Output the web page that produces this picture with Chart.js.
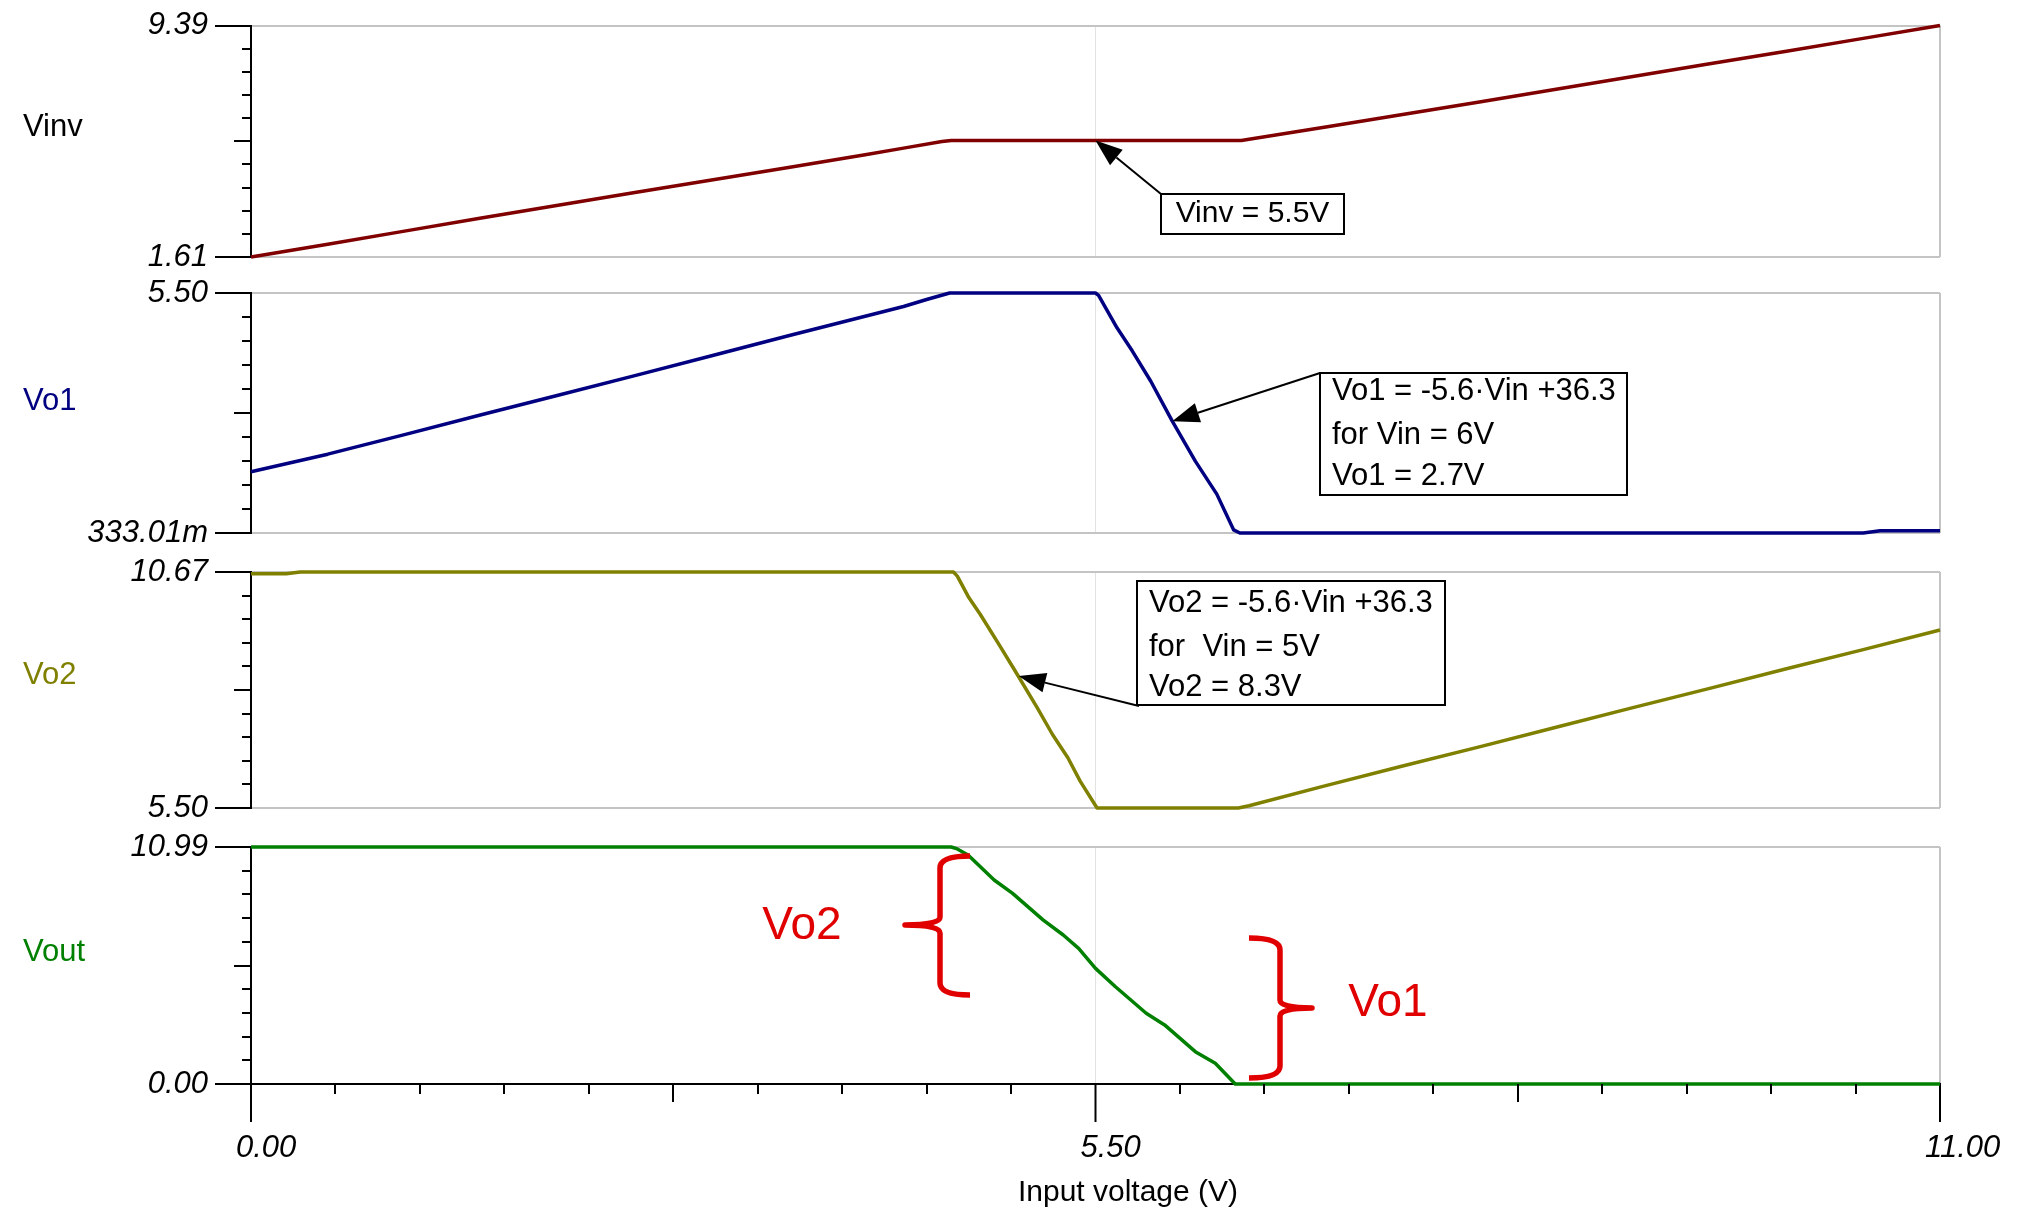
<!DOCTYPE html>
<html>
<head>
<meta charset="utf-8">
<title>Vinv, Vo1, Vo2, Vout vs input voltage</title>
<script src="https://cdn.jsdelivr.net/npm/chart.js@4.4.1/dist/chart.umd.min.js"></script>
<style>
  html, body { margin: 0; padding: 0; background: #fff; }
  #wrap { position: relative; width: 2038px; height: 1217px; }
  #wrap canvas { position: absolute; left: 0; top: 0; }
</style>
</head>
<body>
<div id="wrap">
  <canvas id="vinvChart" width="2038" height="1217"></canvas>
  <canvas id="vo1Chart" width="2038" height="1217"></canvas>
  <canvas id="vo2Chart" width="2038" height="1217"></canvas>
  <canvas id="voutChart" width="2038" height="1217"></canvas>
</div>
<script>
(function () {
  "use strict";

  // ---- data ----
  // input voltage axis
  var xMajor = [0, 5.5, 11];
  var xTickLabels = ['0.00', '5.50', '11.00'];

  // Vinv
  var vinvX = [0, 0.5, 1.0, 1.5, 2.0, 2.5, 3.0, 3.5, 4.0, 4.25, 4.5, 4.56, 6.45, 6.5, 7.0, 7.5, 8.0, 8.5, 9.0, 9.5, 10.0, 10.5, 11.0];
  var vinvY = [1.61, 2.04, 2.48, 2.92, 3.35, 3.78, 4.20, 4.62, 5.05, 5.27, 5.49, 5.53, 5.53, 5.57, 5.98, 6.40, 6.82, 7.25, 7.68, 8.11, 8.53, 8.96, 9.39];
  var vinvRange = [1.61, 9.39];
  var vinvTicks = ['1.61', '9.39'];

  // Vo1
  var vo1X = [0, 0.5, 1.0, 1.5, 2.0, 2.5, 3.0, 3.5, 4.0, 4.25, 4.4, 4.55, 5.5, 5.52, 5.64, 5.74, 5.86, 6.0, 6.15, 6.29, 6.40, 6.44, 10.5, 10.61, 11.0];
  var vo1Y = [1.65, 2.03, 2.45, 2.88, 3.30, 3.72, 4.15, 4.58, 5.00, 5.21, 5.36, 5.50, 5.50, 5.45, 4.75, 4.25, 3.60, 2.74, 1.88, 1.17, 0.40, 0.333, 0.333, 0.38, 0.38];
  var vo1Range = [0.33301, 5.50];
  var vo1Ticks = ['333.01m', '5.50'];

  // Vo2
  var vo2X = [0, 0.23, 0.32, 4.575, 4.60, 4.675, 4.75, 4.87, 4.97, 5.12, 5.22, 5.32, 5.40, 5.51, 6.43, 6.5, 7.0, 7.5, 8.0, 8.5, 9.0, 9.5, 10.0, 10.5, 11.0];
  var vo2Y = [10.63, 10.63, 10.67, 10.67, 10.58, 10.11, 9.74, 9.09, 8.54, 7.70, 7.11, 6.60, 6.09, 5.50, 5.50, 5.55, 5.99, 6.42, 6.84, 7.27, 7.70, 8.12, 8.55, 8.97, 9.40];
  var vo2Range = [5.50, 10.67];
  var vo2Ticks = ['5.50', '10.67'];

  // Vout
  var voutX = [0, 4.56, 4.60, 4.67, 4.84, 4.96, 5.16, 5.29, 5.39, 5.5, 5.63, 5.83, 5.95, 6.15, 6.28, 6.41, 11.0];
  var voutY = [10.99, 10.99, 10.90, 10.62, 9.46, 8.84, 7.60, 6.91, 6.29, 5.36, 4.51, 3.28, 2.74, 1.50, 0.96, 0.0, 0.0];
  var voutRange = [0, 10.99];
  var voutTicks = ['0.00', '10.99'];

  // ---- page geometry ----
  var W = 2038, H = 1217;
  var plotLeft = 251, plotRight = 1940;
  var FONT = "'Liberation Sans', Arial, sans-serif";

  Chart.defaults.font.family = FONT;

  function toPoints(xs, ys) {
    return xs.map(function (x, i) { return { x: x, y: ys[i] }; });
  }

  function drawArrow(ctx, x0, y0, x1, y1) {
    var ang = Math.atan2(y1 - y0, x1 - x0), head = 27, half = 10;
    var bx = x1 - head * Math.cos(ang), by = y1 - head * Math.sin(ang);
    ctx.beginPath();
    ctx.moveTo(x0, y0);
    ctx.lineTo(bx, by);
    ctx.stroke();
    ctx.beginPath();
    ctx.moveTo(x1, y1);
    ctx.lineTo(bx + half * Math.sin(ang), by - half * Math.cos(ang));
    ctx.lineTo(bx - half * Math.sin(ang), by + half * Math.cos(ang));
    ctx.closePath();
    ctx.fill();
  }

  // curly brace, vertical stem at xv from y1 to y2, point at (xTip, ym), arms end at xArm
  function drawBrace(ctx, b) {
    var r = 12, r2 = 8;
    ctx.beginPath();
    ctx.moveTo(b.xArm, b.y1);
    ctx.quadraticCurveTo(b.xv, b.y1, b.xv, b.y1 + r);
    ctx.lineTo(b.xv, b.ym - r2);
    ctx.quadraticCurveTo(b.xv, b.ym, b.xTip, b.ym);
    ctx.quadraticCurveTo(b.xv, b.ym, b.xv, b.ym + r2);
    ctx.lineTo(b.xv, b.y2 - r);
    ctx.quadraticCurveTo(b.xv, b.y2, b.xArm, b.y2);
    ctx.stroke();
  }

  /*panel decorations: minor ticks, names, notes, braces*/
  var panelDecor = {
    id: 'panelDecor',
    afterDraw: function (chart, args, o) {
      var ctx = chart.ctx, xs = chart.scales.x, ys = chart.scales.y, area = chart.chartArea;
      var i, p, len;
      ctx.save();
      ctx.strokeStyle = '#000';
      ctx.fillStyle = '#000';
      ctx.lineWidth = 2;

      // minor y ticks, middle one longer
      for (i = 1; i < 10; i++) {
        p = Math.round(ys.getPixelForValue(ys.min + i * (ys.max - ys.min) / 10));
        len = i === 5 ? 17 : 9;
        ctx.beginPath();
        ctx.moveTo(area.left - len, p);
        ctx.lineTo(area.left, p);
        ctx.stroke();
      }

      // minor x ticks on the bottom panel
      if (o.minorX) {
        for (i = 1; i < 20; i++) {
          if (i === 10) continue;
          p = Math.round(xs.getPixelForValue(i * 0.55));
          len = (i === 5 || i === 15) ? 18 : 10;
          ctx.beginPath();
          ctx.moveTo(p, area.bottom);
          ctx.lineTo(p, area.bottom + len);
          ctx.stroke();
        }
      }

      // series name
      ctx.font = '31px ' + FONT;
      ctx.textBaseline = 'middle';
      ctx.textAlign = 'left';
      ctx.fillStyle = o.nameColor;
      ctx.fillText(o.name, 23, o.nameY);

      // boxed notes with arrows
      (o.notes || []).forEach(function (n) {
        ctx.fillStyle = '#fff';
        ctx.fillRect(n.box[0], n.box[1], n.box[2], n.box[3]);
        ctx.strokeStyle = '#000';
        ctx.lineWidth = 2;
        ctx.strokeRect(n.box[0], n.box[1], n.box[2], n.box[3]);
        ctx.fillStyle = '#000';
        ctx.font = n.font + 'px ' + FONT;
        ctx.textAlign = n.align;
        n.lines.forEach(function (t, k) {
          ctx.fillText(t, n.textX, n.lineY[k]);
        });
        drawArrow(ctx, n.from[0], n.from[1], xs.getPixelForValue(n.tip[0]), ys.getPixelForValue(n.tip[1]));
      });

      // red braces and labels
      (o.braces || []).forEach(function (b) {
        ctx.strokeStyle = '#e00000';
        ctx.lineWidth = 5.5;
        ctx.lineJoin = 'round';
        drawBrace(ctx, b);
        ctx.fillStyle = '#e00000';
        ctx.font = '46px ' + FONT;
        ctx.textAlign = 'center';
        ctx.fillText(b.label, b.labelX, b.labelY);
      });

      // x axis title
      if (o.xTitle) {
        ctx.fillStyle = '#000';
        ctx.font = '30px ' + FONT;
        ctx.textAlign = 'center';
        ctx.fillText(o.xTitle, 1128, 1193);
      }
      ctx.restore();
    }
  };

  function makePanel(canvasId, p) {
    var last = !!p.last;
    return new Chart(document.getElementById(canvasId), {
      type: 'line',
      data: {
        datasets: [{
          data: toPoints(p.xs, p.ys),
          borderColor: p.color,
          borderWidth: 3.5,
          borderJoinStyle: 'round',
          pointRadius: 0,
          tension: 0,
          clip: 6
        }]
      },
      options: {
        responsive: false,
        animation: false,
        devicePixelRatio: 1,
        events: [],
        layout: {
          padding: { left: 0, right: W - plotRight, top: p.top, bottom: last ? 0 : H - p.bottom }
        },
        scales: {
          x: {
            type: 'linear',
            min: 0,
            max: 11,
            afterBuildTicks: function (s) {
              s.ticks = xMajor.map(function (v) { return { value: v }; });
            },
            afterFit: function (s) { s.height = last ? H - p.bottom : 0; },
            grid: {
              color: function (c) {
                if (c.tick.value === 5.5) return '#e2e2e2';
                if (c.tick.value === 11) return '#c4c4c4';
                return 'rgba(0,0,0,0)';
              },
              lineWidth: function (c) { return c.tick.value === 5.5 ? 1 : 2; },
              drawTicks: last,
              tickLength: 38,
              tickColor: '#000',
              tickWidth: 2
            },
            border: { display: last, color: '#000', width: 2 },
            ticks: {
              display: last,
              autoSkip: false,
              maxRotation: 0,
              align: 'start',
              labelOffset: -15,
              padding: 8,
              color: '#000',
              font: { size: 31, style: 'italic' },
              callback: function (v, i) { return xTickLabels[i]; }
            }
          },
          y: {
            type: 'linear',
            min: p.range[0],
            max: p.range[1],
            afterBuildTicks: function (s) {
              s.ticks = [{ value: p.range[0] }, { value: p.range[1] }];
            },
            afterFit: function (s) { s.width = plotLeft; },
            grid: {
              color: function (c) {
                return (last && c.tick.value === p.range[0]) ? '#000' : '#c4c4c4';
              },
              lineWidth: 2,
              tickLength: 36,
              tickColor: '#000',
              tickWidth: 2
            },
            border: { color: '#000', width: 2 },
            ticks: {
              autoSkip: false,
              padding: 7,
              color: '#000',
              font: { size: 31, style: 'italic' },
              callback: function (v, i) { return p.tickLabels[i]; }
            }
          }
        },
        plugins: {
          legend: { display: false },
          tooltip: { enabled: false },
          panelDecor: p.decor
        }
      },
      plugins: [panelDecor]
    });
  }

  /*Start Vinv panel*/
  if (document.getElementById('vinvChart')) {
    makePanel('vinvChart', {
      xs: vinvX, ys: vinvY, range: vinvRange, tickLabels: vinvTicks,
      color: '#800000', top: 21, bottom: 257,
      decor: {
        name: 'Vinv', nameColor: '#000', nameY: 127,
        notes: [{
          box: [1161, 194, 183, 40], font: 30, align: 'center', textX: 1252.5,
          lines: ['Vinv = 5.5V'], lineY: [214],
          from: [1161, 194], tip: [5.5, 5.53]
        }]
      }
    });
  } //end Vinv

  /*Start Vo1 panel*/
  if (document.getElementById('vo1Chart')) {
    makePanel('vo1Chart', {
      xs: vo1X, ys: vo1Y, range: vo1Range, tickLabels: vo1Ticks,
      color: '#000080', top: 293, bottom: 533,
      decor: {
        name: 'Vo1', nameColor: '#000080', nameY: 401,
        notes: [{
          box: [1320, 373, 307, 122], font: 31, align: 'left', textX: 1332,
          lines: ['Vo1 = -5.6\u00b7Vin +36.3', 'for Vin = 6V', 'Vo1 = 2.7V'], lineY: [391, 435, 476],
          from: [1320, 373], tip: [6.0, 2.74]
        }]
      }
    });
  } //end Vo1

  /*Start Vo2 panel*/
  if (document.getElementById('vo2Chart')) {
    makePanel('vo2Chart', {
      xs: vo2X, ys: vo2Y, range: vo2Range, tickLabels: vo2Ticks,
      color: '#808000', top: 572, bottom: 808,
      decor: {
        name: 'Vo2', nameColor: '#808000', nameY: 675,
        notes: [{
          box: [1137, 581, 308, 124], font: 31, align: 'left', textX: 1149,
          lines: ['Vo2 = -5.6\u00b7Vin +36.3', 'for  Vin = 5V', 'Vo2 = 8.3V'], lineY: [603, 647, 687],
          from: [1139, 706], tip: [5.0, 8.39]
        }]
      }
    });
  } //end Vo2

  /*Start Vout panel*/
  if (document.getElementById('voutChart')) {
    makePanel('voutChart', {
      xs: voutX, ys: voutY, range: voutRange, tickLabels: voutTicks,
      color: '#008000', top: 847, bottom: 1084, last: true,
      decor: {
        name: 'Vout', nameColor: '#008000', nameY: 952,
        minorX: true,
        xTitle: 'Input voltage (V)',
        braces: [
          { xv: 940, y1: 856, y2: 995, ym: 925, xTip: 905, xArm: 970, label: 'Vo2', labelX: 802, labelY: 926 },
          { xv: 1280, y1: 938, y2: 1078, ym: 1008, xTip: 1312, xArm: 1249, label: 'Vo1', labelX: 1388, labelY: 1003 }
        ]
      }
    });
  } //end Vout
})();
</script>
</body>
</html>
